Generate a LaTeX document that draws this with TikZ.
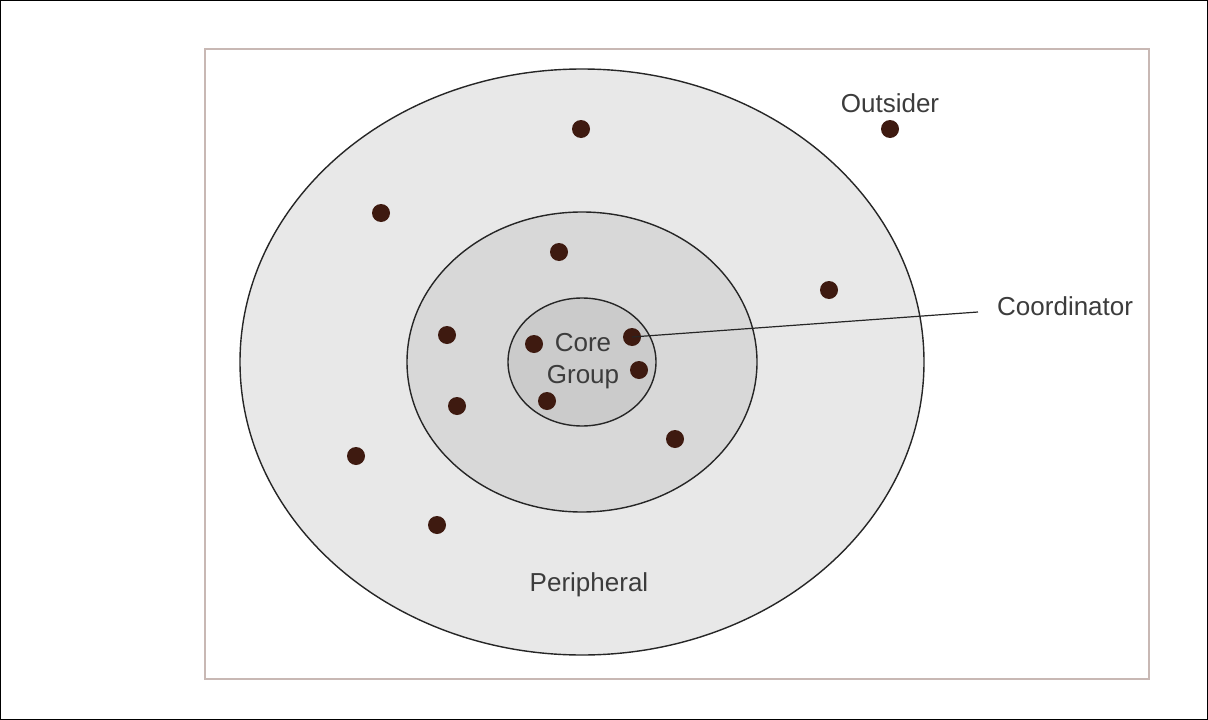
\documentclass[tikz,border=0pt]{standalone}
\usepackage{fontspec}
\setmainfont{Liberation Sans}
\usetikzlibrary{positioning,calc}
\definecolor{dotbrown}{HTML}{3E1A10}
\definecolor{ringA}{HTML}{E8E8E8}
\definecolor{ringB}{HTML}{D8D8D8}
\definecolor{ringC}{HTML}{CBCBCB}
\definecolor{frameline}{HTML}{C8B8B4}
\definecolor{labeltext}{HTML}{3C3C3C}
\tikzset{member/.style={circle,fill=dotbrown,inner sep=0pt,minimum size=18pt}, }
\tikzset{ring/.style={draw=black!85,line width=1.4pt}, }
\tikzset{lbl/.style={text=labeltext,font=\fontsize{26}{32}\selectfont,align=center}, }
\tikzset{linea/.style={draw=black!85,line width=1.2pt}}
\begin{document}
\begin{tikzpicture}[x=1pt,y=-1pt]
  \useasboundingbox (0,0) rectangle (1208,720);
  \draw[line width=1pt] (0.5,0.5) rectangle (1207.5,719.5);
  \draw[frameline,line width=1.8pt] (205,49) rectangle (1149,679);
  %
  \draw[ring,fill=ringA] (582,362) ellipse [x radius=342,y radius=293];
  \draw[ring,fill=ringB] (582,362) ellipse [x radius=175,y radius=150];
  \draw[ring,fill=ringC] (582,362) ellipse [x radius=74,y radius=64];
  %
  \node[lbl] (core) at (583,361) {Core\\Group};
  \node[lbl] (peri) at (589,585) {Peripheral};
  \node[lbl] (out) at (890,103) {Outsider};
  \node[lbl,anchor=west,inner sep=0pt] (coord) at (997,306) {Coordinator};
  %
  \foreach \n/\x/\y in {o/890/129,p1/581/129,p2/381/213,p3/829/290,p4/356/456,p5/437/525,
      m1/559/252,m2/447/335,m3/457/406,m4/675/439,
      c1/534/344,c2/632/337,c3/639/370,c4/547/401}
    \node[member] (\n) at (\x,\y) {};
  %
  \coordinate (tip) at (978,312);
  \path[linea] (c2.center) -- (tip);
\end{tikzpicture}
\end{document}
